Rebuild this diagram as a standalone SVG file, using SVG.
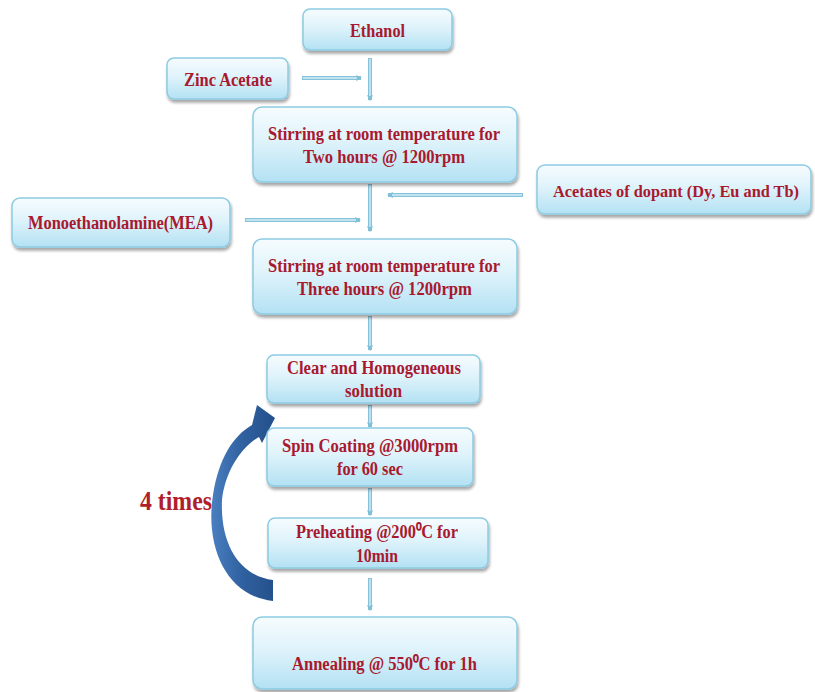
<svg xmlns="http://www.w3.org/2000/svg" width="815" height="692" viewBox="0 0 815 692">
<defs>
<linearGradient id="boxg" x1="0" y1="0" x2="0" y2="1">
<stop offset="0" stop-color="#f6fcfe"/>
<stop offset="0.45" stop-color="#dff3fb"/>
<stop offset="1" stop-color="#b3e1f3"/>
</linearGradient>
<linearGradient id="arcg" x1="0" y1="0" x2="1" y2="0">
<stop offset="0" stop-color="#4a7fc0"/>
<stop offset="0.5" stop-color="#2f609f"/>
<stop offset="1" stop-color="#24508a"/>
</linearGradient>
<filter id="sh" x="-10%" y="-20%" width="120%" height="150%">
<feGaussianBlur in="SourceAlpha" stdDeviation="1.5"/>
<feOffset dx="1" dy="2.5" result="b"/>
<feComponentTransfer><feFuncA type="linear" slope="0.35"/></feComponentTransfer>
<feMerge><feMergeNode/><feMergeNode in="SourceGraphic"/></feMerge>
</filter>
<marker id="ah" viewBox="0 0 10 10" refX="8" refY="5" markerWidth="6" markerHeight="6" markerUnits="userSpaceOnUse" orient="auto">
<path d="M0,0 L10,5 L0,10 Z" fill="#7fbfd8"/>
</marker>
</defs>
<style>
.box{fill:url(#boxg);stroke:#8ccbe2;stroke-width:1.5;filter:url(#sh)}
.t{font-family:"Liberation Serif","Times New Roman",serif;font-weight:bold;font-size:18.5px;fill:#a8192e;text-anchor:middle}
.co{stroke:#86c3da;stroke-width:4;fill:none;stroke-linecap:butt}
.ci{stroke:#d4edf6;stroke-width:1.4;fill:none}
.big{font-family:"Liberation Serif","Times New Roman",serif;font-weight:bold;font-size:27px;fill:#b01e2c}
</style>

<g id="connectors">
<g marker-end="url(#ah)">
<line class="co" x1="370" y1="58" x2="370" y2="100"/>
<line class="co" x1="302" y1="78" x2="361" y2="78"/>
<line class="co" x1="370" y1="184" x2="370" y2="231"/>
<line class="co" x1="523" y1="195" x2="388" y2="195"/>
<line class="co" x1="245" y1="220" x2="360" y2="220"/>
<line class="co" x1="370" y1="316" x2="370" y2="350"/>
<line class="co" x1="370" y1="405" x2="370" y2="427"/>
<line class="co" x1="370" y1="488" x2="370" y2="515"/>
<line class="co" x1="370" y1="578" x2="370" y2="610"/>
</g>
<line class="ci" x1="370" y1="59" x2="370" y2="96"/>
<line class="ci" x1="303" y1="78" x2="357" y2="78"/>
<line class="ci" x1="370" y1="185" x2="370" y2="227"/>
<line class="ci" x1="522" y1="195" x2="392" y2="195"/>
<line class="ci" x1="246" y1="220" x2="356" y2="220"/>
<line class="ci" x1="370" y1="317" x2="370" y2="346"/>
<line class="ci" x1="370" y1="406" x2="370" y2="423"/>
<line class="ci" x1="370" y1="489" x2="370" y2="511"/>
<line class="ci" x1="370" y1="579" x2="370" y2="606"/>
</g>

<g id="loop">
<path d="M 273 601 C 225 596, 205 545, 213 495 C 219 458, 233 436, 252 425 L 257 405 L 275 418 L 262 443 L 259 437 C 241 447, 225 472, 222 500 C 220 545, 240 576, 273 580 Z" fill="url(#arcg)"/>
<text class="big" x="140" y="510" textLength="72" lengthAdjust="spacingAndGlyphs">4 times</text>
</g>

<g id="ethanol">
<rect class="box" x="303" y="9" width="149" height="41" rx="7"/>
<text class="t" x="377.5" y="37" textLength="55" lengthAdjust="spacingAndGlyphs">Ethanol</text>
</g>
<g id="zinc">
<rect class="box" x="167" y="58" width="121" height="41" rx="7"/>
<text class="t" x="228" y="86" textLength="88" lengthAdjust="spacingAndGlyphs">Zinc Acetate</text>
</g>
<g id="stir1">
<rect class="box" x="253" y="107" width="264" height="75" rx="9"/>
<text class="t" x="384" y="140" textLength="232" lengthAdjust="spacingAndGlyphs">Stirring at room temperature for</text>
<text class="t" x="384" y="163" textLength="162" lengthAdjust="spacingAndGlyphs">Two hours @ 1200rpm</text>
</g>
<g id="dopant">
<rect class="box" x="537" y="165" width="274" height="49" rx="8"/>
<text class="t" x="676" y="197" style="font-size:17px" textLength="246" lengthAdjust="spacingAndGlyphs">Acetates of dopant (Dy, Eu and Tb)</text>
</g>
<g id="mea">
<rect class="box" x="12" y="198" width="218" height="49" rx="8"/>
<text class="t" x="120.5" y="229" textLength="185" lengthAdjust="spacingAndGlyphs">Monoethanolamine(MEA)</text>
</g>
<g id="stir2">
<rect class="box" x="253" y="239" width="264" height="75" rx="9"/>
<text class="t" x="384" y="272" textLength="232" lengthAdjust="spacingAndGlyphs">Stirring at room temperature for</text>
<text class="t" x="384.5" y="295" textLength="175" lengthAdjust="spacingAndGlyphs">Three hours @ 1200rpm</text>
</g>
<g id="clear">
<rect class="box" x="267" y="355" width="213" height="48" rx="7"/>
<text class="t" x="374" y="374" textLength="174" lengthAdjust="spacingAndGlyphs">Clear and Homogeneous</text>
<text class="t" x="373.5" y="397" textLength="57" lengthAdjust="spacingAndGlyphs">solution</text>
</g>
<g id="spin">
<rect class="box" x="267" y="428" width="206" height="58" rx="7"/>
<text class="t" x="370" y="452" textLength="176" lengthAdjust="spacingAndGlyphs">Spin Coating @3000rpm</text>
<text class="t" x="370" y="475" textLength="66" lengthAdjust="spacingAndGlyphs">for 60 sec</text>
</g>
<g id="preheat">
<rect class="box" x="268" y="518" width="220" height="50" rx="7"/>
<text class="t" x="377" y="538" textLength="162" lengthAdjust="spacingAndGlyphs">Preheating @200⁰C for</text>
<text class="t" x="377" y="562" textLength="42" lengthAdjust="spacingAndGlyphs">10min</text>
</g>
<g id="anneal">
<rect class="box" x="253" y="617" width="264" height="72" rx="9"/>
<text class="t" x="384.5" y="670" textLength="185" lengthAdjust="spacingAndGlyphs">Annealing @ 550⁰C for 1h</text>
</g>
</svg>
